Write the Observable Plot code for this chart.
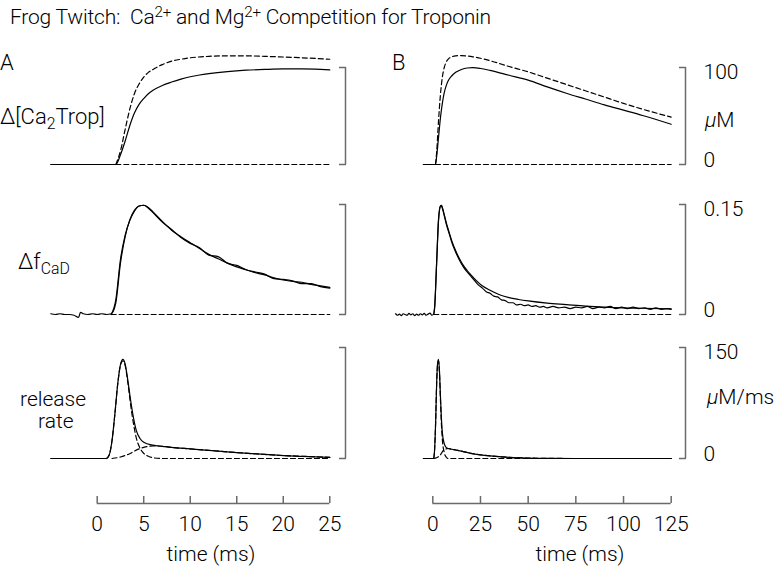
<!DOCTYPE html>
<html><head><meta charset="utf-8">
<script src="https://cdn.jsdelivr.net/npm/d3@7"></script>
<script src="https://cdn.jsdelivr.net/npm/@observablehq/plot@0.6"></script>
<style>
body{margin:0;background:#fff;}
#fig{position:relative;width:777px;height:575px;overflow:hidden;background:#fff;font-family:Roboto,"DejaVu Sans",sans-serif;font-weight:300;color:#000;}
.lbl{position:absolute;white-space:nowrap;line-height:1;font-size:21px;}
.lbl sub{font-size:0.72em;vertical-align:-0.3em;line-height:0;}
.lbl sup{font-size:0.72em;vertical-align:0.45em;line-height:0;}
</style></head><body><div id="fig"></div>
<script>
// ---------- text ----------
const titleParts = ["Frog Twitch:\u00a0 Ca", "2+", " and Mg", "2+", " Competition for Troponin"];
const panelLetters = ["A", "B"];
const rowLabels = ["\u0394[Ca<sub>2</sub>Trop]", "\u0394f<sub>CaD</sub>", "release", "rate"];
const unitLabels = ["\u03bcM", "\u03bcM/ms"];
const timeLabel = "time (ms)";

// ---------- ticks ----------
const timeTicksA = [0, 5, 10, 15, 20, 25];
const timeTicksB = [0, 25, 50, 75, 100, 125];
const troponinTicks = [0, 100];
const fluoTicks = [0, 0.15];
const releaseTicks = [0, 150];

// ---------- row 1: delta [Ca2Trop] (uM) ----------
const troponinA_total = [[-5,0],[2,0],[2.5,10],[3,24],[3.5,40],[4,53],[4.5,62],[5,68],[5.5,73],[6,76.5],[7,81.5],[8,85],[9,88],[10,90.5],[11,92.3],[12,93.7],[14,95.8],[16,97.2],[18,98],[20,98.5],[22,98.5],[24,98],[25,97.5]];
const troponinA_noMg = [[2,0],[2.5,14],[3,36],[3.5,57],[4,73],[4.5,83],[5,90],[5.5,95],[6,98],[7,103],[8,106.5],[9,108.5],[10,110],[12,111.5],[14,112],[16,112],[18,111.5],[20,110.8],[22,110],[25,108.5]];
const troponinA_zero = [[2,0],[25,0]];
const troponinB_total = [[-5,0],[1.4,0],[2,8],[3,28],[4,48],[5,63],[6,74],[7,81],[8,86],[10,91.5],[12,95],[15,98],[18,99.5],[21,99.8],[25,99],[30,97],[40,92],[50,87],[60,80],[70,73.5],[80,67.5],[90,61.5],[100,56],[110,50.5],[125,41.5]];
const troponinB_noMg = [[1.4,0],[2,12],[3,45],[4,72],[5,90],[6,100],[7,105.5],[8,108.5],[10,111],[12,112],[15,112.3],[18,111.8],[21,111],[25,109.5],[30,107],[40,101],[50,95.5],[60,89],[70,82.5],[80,76],[90,69.5],[100,63],[110,57],[125,48.8]];
const troponinB_zero = [[1.4,0],[125,0]];

// ---------- row 2: delta f_CaD ----------
const fluoA_measured = [[-5,0.001],[-4.5,0],[-4,0.001],[-3.5,0],[-3,0],[-2.5,-0.001],[-2,-0.004],[-1.8,0.003],[-1.5,0.001],[-1,0],[-0.5,0.001],[0,0],[0.5,0.001],[1,0],[1.5,0.001],[2,0.016],[2.5,0.07],[3,0.106],[3.5,0.129],[4,0.142],[4.5,0.148],[5,0.149],[5.5,0.145],[6,0.139],[7,0.126],[8,0.116],[9,0.105],[10,0.097],[11,0.091],[12,0.081],[13,0.079],[14,0.07],[15,0.067],[16,0.061],[17,0.058],[18,0.055],[19,0.049],[20,0.048],[21,0.046],[22,0.042],[23,0.042],[24,0.038],[25,0.036]];
const fluoA_fit = [[1.5,0],[2,0.02],[2.5,0.075],[3,0.108],[3.5,0.128],[4,0.141],[4.5,0.148],[5,0.149],[5.5,0.146],[6,0.14],[7,0.127],[8,0.115],[9,0.106],[10,0.098],[11,0.09],[12,0.082],[13,0.076],[14,0.07],[15,0.065],[16,0.061],[17,0.057],[18,0.054],[19,0.05],[20,0.047],[21,0.045],[22,0.044],[23,0.041],[24,0.039],[25,0.037]];
const fluoA_zero = [[1.5,0],[25,0]];
const fluoB_measured = [[-19.5,0.001],[-18.5,-0.001],[-17.5,0.0005],[-16.5,-0.0015],[-15.5,0.001],[-14.5,0],[-13.5,-0.001],[-12.5,0.0015],[-11.5,-0.0005],[-10.5,0.001],[-9.5,-0.0015],[-8.5,0.0005],[-7.5,-0.001],[-6.5,0.001],[-5.5,-0.0005],[-4.5,0.0015],[-3.5,-0.001],[-2.5,0.0005],[-1.5,0.002],[-0.5,-0.001],[0.5,0.001],[1,0.012],[2,0.07],[3,0.128],[4,0.148],[4.5,0.149],[5,0.145],[6,0.135],[7,0.124],[8,0.115],[9,0.107],[10,0.098],[12,0.085],[14,0.074],[16,0.065],[18,0.058],[20,0.052],[22,0.046],[24,0.04],[26,0.036],[28,0.031],[30,0.029],[32,0.025],[34,0.024],[36,0.02],[38,0.019],[40,0.016],[42,0.016],[44,0.013],[46,0.014],[48,0.012],[50,0.013],[52,0.011],[54,0.012],[56,0.01],[58,0.011],[60,0.009],[63,0.011],[66,0.009],[69,0.01],[72,0.008],[75,0.01],[78,0.009],[81,0.011],[84,0.008],[87,0.01],[90,0.009],[93,0.011],[96,0.008],[99,0.01],[102,0.008],[105,0.01],[108,0.008],[111,0.009],[114,0.007],[117,0.009],[120,0.007],[123,0.008],[125,0.007]];
const fluoB_fit = [[0.5,0],[1,0.01],[2,0.07],[3,0.13],[4,0.148],[4.5,0.149],[5,0.146],[6,0.136],[7,0.126],[8,0.117],[9,0.108],[10,0.1],[12,0.087],[14,0.076],[16,0.067],[18,0.06],[20,0.054],[25,0.041],[30,0.033],[35,0.027],[40,0.023],[45,0.0205],[50,0.0185],[60,0.0155],[70,0.0135],[80,0.0115],[90,0.01],[100,0.009],[110,0.0085],[125,0.0078]];
const fluoB_zero = [[0.5,0],[125,0]];

// ---------- row 3: release rate (uM/ms) ----------
const releaseA_total = [[-5,0],[1,0],[1.3,5],[1.6,25],[1.9,60],[2.2,100],[2.5,127],[2.76,134],[3,128],[3.3,105],[3.6,78],[3.9,55],[4.2,38],[4.6,27],[5,22],[6,18],[7,16.5],[8,15],[10,13],[12,11],[15,8],[18,5.5],[20,4],[22,3],[25,1.5]];
const releaseA_fast = [[1,0],[1.3,5],[1.6,25],[1.9,60],[2.2,100],[2.5,126],[2.76,132],[3,126],[3.3,102],[3.6,72],[3.9,47],[4.2,28],[4.6,14],[5,7],[5.5,3],[6,1],[7,0],[25,0]];
const releaseA_slow = [[1.6,0],[2.5,2],[3,4],[3.5,6.5],[4,10],[4.5,13],[5,15],[6,17],[7,16.5],[8,15],[10,13],[12,11],[15,8],[18,5.5],[20,4],[22,3],[25,1.5]];
const releaseB_total = [[-5,0],[0.5,0],[1,15],[1.5,50],[2,100],[2.5,128],[3,134],[3.5,118],[4,85],[4.5,55],[5,35],[6,20],[7,15],[8,13.5],[10,12.5],[12,11.5],[15,10],[20,7],[25,5],[30,3.5],[40,1.5],[50,0.6],[60,0.2],[75,0],[125,0]];
const releaseB_fast = [[0.5,0],[1,15],[1.5,50],[2,100],[2.5,127],[3,132],[3.5,115],[4,80],[4.5,47],[5,26],[6,8],[7,2],[8,0],[125,0]];
const releaseB_slow = [[0.5,0],[2,1],[3,2.5],[4,5],[5,9],[6,12],[7,13],[8,13.5],[10,12.5],[12,11.5],[15,10],[20,7],[25,5],[30,3.5],[40,1.5],[50,0.6],[60,0.2],[75,0],[125,0]];

// ---------- layout ----------
const fig = document.getElementById("fig");
const FONT = 'Roboto, "DejaVu Sans", sans-serif';
const GRAY = "#6a6a6a";
const cols = [
  {left: 0, width: 390, mL: 50, mR: 45, domain: [-5.02, 26.69], ticks: timeTicksA, labels: false},
  {left: 390, width: 387, mL: 5, mR: 92, domain: [-19.56, 132.5], ticks: timeTicksB, labels: true}
];
const rows = [
  {top: 50, height: 130, mT: 17, mB: 16, ticks: troponinTicks,
   series: [[troponinA_total, troponinA_noMg, troponinA_zero], [troponinB_total, troponinB_noMg, troponinB_zero]],
   dashed: [false, true, true]},
  {top: 190, height: 140, mT: 14, mB: 16, ticks: fluoTicks,
   series: [[fluoA_measured, fluoA_fit, fluoA_zero], [fluoB_measured, fluoB_fit, fluoB_zero]],
   dashed: [false, false, true]},
  {top: 335, height: 135, mT: 12, mB: 12, ticks: releaseTicks,
   series: [[releaseA_total, releaseA_fast, releaseA_slow], [releaseB_total, releaseB_fast, releaseB_slow]],
   dashed: [false, true, true]}
];

function place(svg, left, top) {
  svg.style.position = "absolute";
  svg.style.left = left + "px";
  svg.style.top = top + "px";
  fig.appendChild(svg);
}
const baseStyle = {fontSize: "21px", fontFamily: FONT, fontWeight: 300, background: "transparent", overflow: "visible"};

rows.forEach((row) => {
  cols.forEach((col, ci) => {
    const yt = row.ticks;
    const marks = [
      Plot.ruleX([{x: col.domain[1], y1: yt[0], y2: yt[1]}], {x: "x", y1: "y1", y2: "y2", stroke: GRAY, strokeWidth: 1.5}),
      Plot.axisY(yt, {anchor: "right", tickSize: -7, tickFormat: () => "", label: null, stroke: GRAY, strokeWidth: 1.5})
    ];
    if (col.labels) {
      marks.push(Plot.axisY([yt[1]], {anchor: "right", tickSize: 0, tickPadding: 18, dy: 5, label: null, tickFormat: (d) => String(d), fill: "#000"}));
      marks.push(Plot.axisY([yt[0]], {anchor: "right", tickSize: 0, tickPadding: 18, dy: -4, label: null, tickFormat: (d) => String(d), fill: "#000"}));
    }
    row.series[ci].forEach((s, si) => {
      marks.push(Plot.line(s, {x: (d) => d[0], y: (d) => d[1], curve: "monotone-x", stroke: "#000", strokeWidth: 1.2,
        strokeDasharray: row.dashed[si] ? "5,3" : null}));
    });
    const svg = Plot.plot({
      width: col.width, height: row.height,
      marginLeft: col.mL, marginRight: col.mR, marginTop: row.mT, marginBottom: row.mB,
      x: {domain: col.domain, axis: null},
      y: {domain: yt, axis: null},
      style: baseStyle,
      marks
    });
    place(svg, col.left, row.top);
  });
});

// time axes
cols.forEach((col) => {
  const t = col.ticks;
  const svg = Plot.plot({
    width: col.width, height: 105,
    marginLeft: col.mL, marginRight: col.mR, marginTop: 0, marginBottom: 72,
    x: {domain: col.domain, axis: null},
    y: {domain: [0, 1], axis: null},
    style: baseStyle,
    marks: [
      Plot.ruleY([{y: 0, x1: t[0], x2: t[t.length - 1]}], {y: "y", x1: "x1", x2: "x2", stroke: GRAY, strokeWidth: 1.5}),
      Plot.axisX(t, {anchor: "bottom", tickSize: -7, tickPadding: 20, label: null, stroke: GRAY, strokeWidth: 1.5, fill: "#000"})
    ]
  });
  place(svg, col.left, 470);
});

// HTML labels
function label(html, left, top, extra = {}) {
  const d = document.createElement("div");
  d.className = "lbl";
  d.innerHTML = html;
  d.style.left = left + "px";
  d.style.top = top + "px";
  Object.assign(d.style, extra);
  fig.appendChild(d);
  return d;
}
label(`${titleParts[0]}<sup>${titleParts[1]}</sup>${titleParts[2]}<sup>${titleParts[3]}</sup>${titleParts[4]}`, 10, 7, {letterSpacing: "-0.2px"});
label(panelLetters[0], 0, 52, {fontSize: "22px"});
label(panelLetters[1], 392, 52, {fontSize: "22px"});
label(rowLabels[0], 0, 106, {fontSize: "22px"});
label(rowLabels[1], 18, 251, {fontSize: "22px"});
label(rowLabels[2], 20, 389);
label(rowLabels[3], 38, 411);
label(`<i>${unitLabels[0].slice(0,1)}</i>${unitLabels[0].slice(1)}`, 705, 110);
label(`<i>${unitLabels[1].slice(0,1)}</i>${unitLabels[1].slice(1)}`, 707, 387);
label(timeLabel, 211, 544, {transform: "translateX(-50%)"});
label(timeLabel, 580, 544, {transform: "translateX(-50%)"});
</script>
</body></html>
